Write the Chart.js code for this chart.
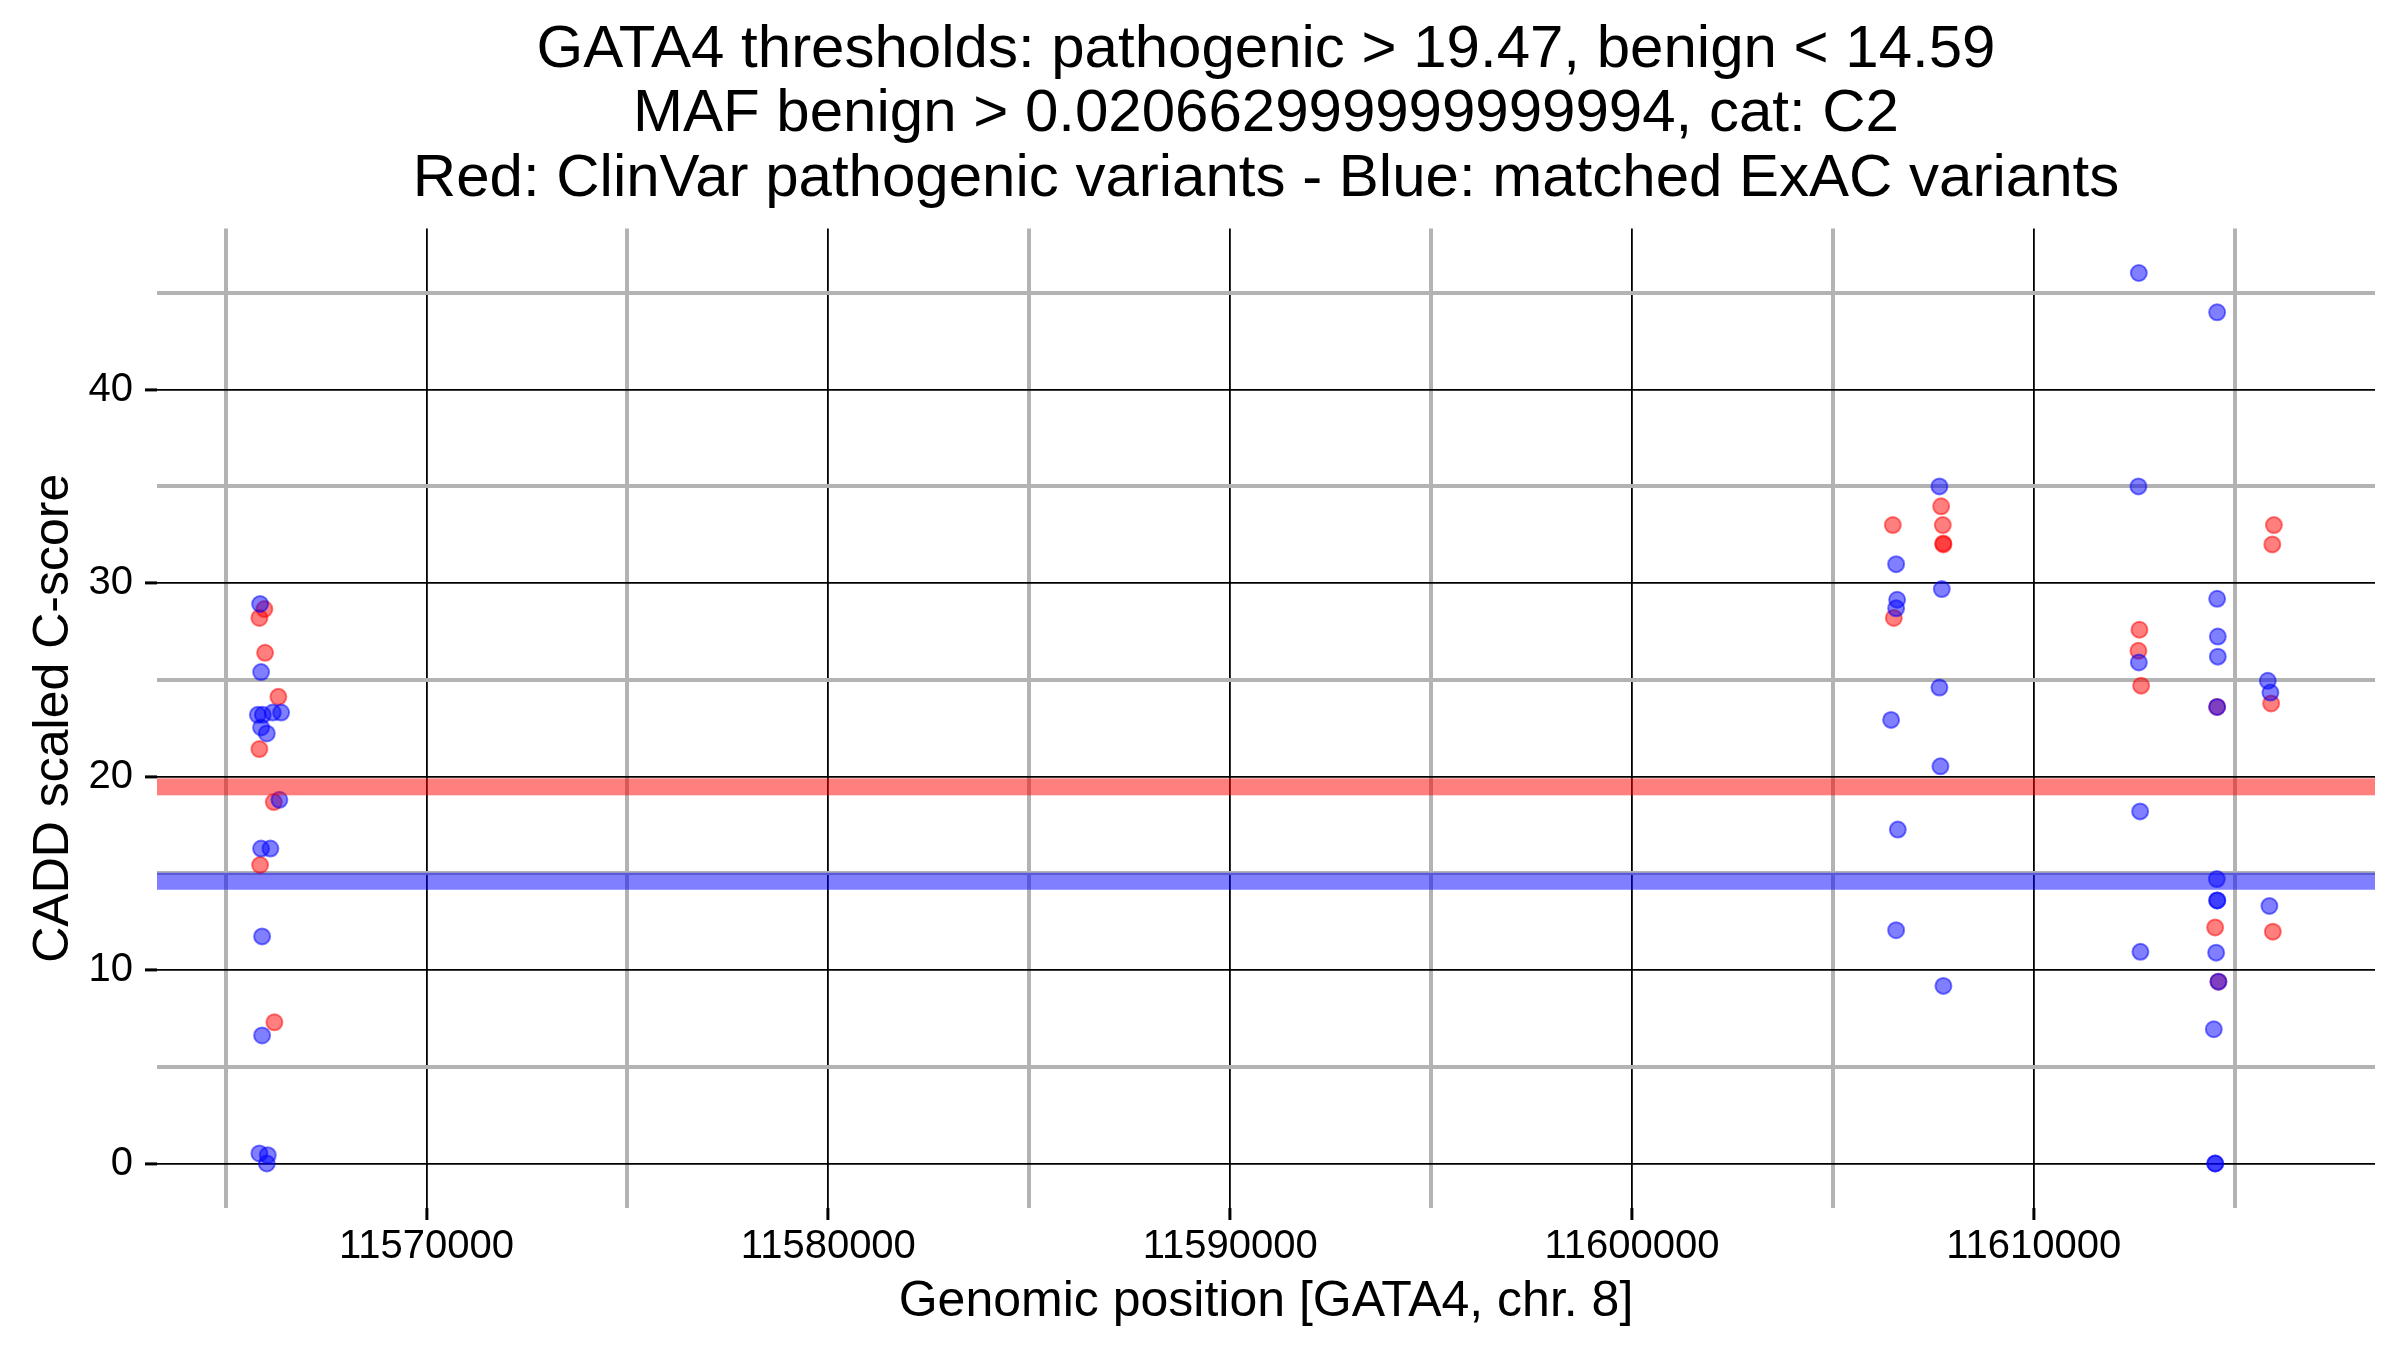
<!DOCTYPE html>
<html>
<head>
<meta charset="utf-8">
<script src="https://cdn.jsdelivr.net/npm/chart.js@4"></script>
<style>
  body { margin: 0; background: #fff; }
  #wrap { width: 2400px; height: 1350px; }
</style>
</head>
<body>
<div id="wrap"><canvas id="cadd" width="2400" height="1350"></canvas></div>
<script>
// ClinVar pathogenic variants (red)
const redPos = [11565963, 11565838, 11565980, 11566311, 11565838, 11566197, 11565856, 11566212,
  11606494, 11607696, 11607738, 11607753, 11607748, 11606519,
  11612632, 11612607, 11612674, 11614566, 11614516, 11614598, 11615979, 11615939, 11615910, 11615952];
const redScore = [28.66, 28.2, 26.4, 24.12, 21.42, 18.68, 15.43, 7.3,
  33.0, 33.97, 33.0, 32.0, 32.05, 28.2,
  27.59, 26.5, 24.7, 23.6, 12.2, 9.4, 33.0, 32.0, 23.78, 11.98];

// matched ExAC variants (blue)
const bluePos = [11565856, 11565881, 11565799, 11565923, 11566172, 11566379, 11565881, 11566023,
  11566336, 11565881, 11566112, 11565906, 11565906, 11565838, 11566047, 11566023,
  11607654, 11606576, 11607713, 11606601, 11606576, 11607654, 11606451, 11607679, 11606618, 11606576, 11607753,
  11612617, 11614566, 11612607, 11614566, 11614583, 11612617, 11614583, 11614566, 11612649, 11614558,
  11614566, 11614570, 11612657, 11614541, 11614598, 11614483, 11614516, 11614520, 11615827, 11615892, 11615867];
const blueScore = [28.92, 25.4, 23.19, 23.19, 23.31, 23.31, 22.54, 22.23,
  18.8, 16.28, 16.28, 11.74, 6.62, 0.52, 0.43, 0.0,
  35.0, 30.98, 29.69, 29.14, 28.7, 24.6, 22.93, 20.53, 17.26, 12.06, 9.18,
  46.03, 44.0, 35.0, 29.19, 27.24, 25.9, 26.2, 23.6, 18.2, 14.7,
  13.6, 13.6, 10.94, 10.9, 9.4, 6.94, 0, 0, 24.95, 24.34, 13.31];

// thresholds drawn as wide bands
const thresholdValues = [19.47, 14.59];
const thresholdColors = ['rgba(255,0,0,0.5)', 'rgba(0,0,255,0.5)'];

// grid positions (major ones get labels)
const xGrid = [11565000, 11570000, 11575000, 11580000, 11585000, 11590000, 11595000,
  11600000, 11605000, 11610000, 11615000];
const xLabels = [11570000, 11580000, 11590000, 11600000, 11610000];
const yGrid = [0, 5, 10, 15, 20, 25, 30, 35, 40, 45];
const yLabels = [0, 10, 20, 30, 40];

const titleLines = [
  'GATA4 thresholds: pathogenic > 19.47, benign < 14.59',
  'MAF benign > 0.020662999999999994, cat: C2',
  'Red: ClinVar pathogenic variants - Blue: matched ExAC variants'
];

function toPoints(xs, ys) {
  return xs.map((x, i) => ({ x: x, y: ys[i] }));
}

const FONT = '"Liberation Sans", Arial, Helvetica, sans-serif';

const thresholdBands = {
  id: 'thresholdBands',
  afterDatasetsDraw(chart) {
    const { ctx, chartArea, scales } = chart;
    ctx.save();
    thresholdValues.forEach((v, i) => {
      const y = scales.y.getPixelForValue(v);
      ctx.fillStyle = thresholdColors[i];
      ctx.fillRect(chartArea.left, y - 8.5, chartArea.right - chartArea.left, 17);
    });
    ctx.restore();
  }
};

function gridStyle(labels) {
  const isMajor = c => c.tick && labels.includes(c.tick.value);
  return {
    color: c => isMajor(c) ? '#000000' : '#b3b3b3',
    lineWidth: c => isMajor(c) ? 1.8 : 4,
    tickColor: c => isMajor(c) ? '#000000' : 'rgba(0,0,0,0)',
    tickWidth: 3,
    tickLength: 12,
    drawTicks: true
  };
}

new Chart(document.getElementById('cadd'), {
  type: 'scatter',
  data: {
    datasets: [
      {
        label: 'ExAC',
        data: toPoints(bluePos, blueScore),
        backgroundColor: 'rgba(0,0,255,0.5)',
        borderColor: 'rgba(0,0,255,0.5)',
        borderWidth: 2,
        pointRadius: 8
      },
      {
        label: 'ClinVar',
        data: toPoints(redPos, redScore),
        backgroundColor: 'rgba(255,0,0,0.5)',
        borderColor: 'rgba(255,0,0,0.5)',
        borderWidth: 2,
        pointRadius: 8
      }
    ]
  },
  options: {
    responsive: false,
    animation: false,
    devicePixelRatio: 1,
    layout: { padding: { left: 0, right: 25, top: 0, bottom: 0 } },
    plugins: {
      legend: { display: false },
      tooltip: { enabled: false },
      title: {
        display: true,
        fullSize: false,
        text: titleLines,
        color: '#000',
        font: { family: FONT, size: 60, weight: 'normal', lineHeight: 1.075 },
        padding: { top: 18, bottom: 17 }
      }
    },
    scales: {
      x: {
        type: 'linear',
        min: 11563290,
        max: 11618495,
        border: { display: false },
        grid: gridStyle(xLabels),
        afterBuildTicks: s => { s.ticks = xGrid.map(v => ({ value: v })); },
        ticks: {
          autoSkip: false,
          maxRotation: 0,
          padding: 3,
          color: '#000',
          font: { family: FONT, size: 40 },
          callback: v => (xLabels.includes(v) ? String(v) : '')
        },
        title: {
          display: true,
          text: 'Genomic position [GATA4, chr. 8]',
          color: '#000',
          font: { family: FONT, size: 50 },
          padding: { top: 0, bottom: 18 }
        },
        afterFit: s => { s.height = 142; }
      },
      y: {
        type: 'linear',
        min: -2.3,
        max: 48.33,
        border: { display: false },
        grid: gridStyle(yLabels),
        afterBuildTicks: s => { s.ticks = yGrid.map(v => ({ value: v })); },
        ticks: {
          autoSkip: false,
          padding: 12,
          color: '#000',
          font: { family: FONT, size: 40 },
          callback: v => (yLabels.includes(v) ? String(v) : '')
        },
        title: {
          display: true,
          text: 'CADD scaled C-score',
          color: '#000',
          font: { family: FONT, size: 50 },
          padding: { top: 24, bottom: 0 }
        },
        afterFit: s => { s.width = 157; }
      }
    }
  },
  plugins: [thresholdBands]
});
</script>
</body>
</html>
